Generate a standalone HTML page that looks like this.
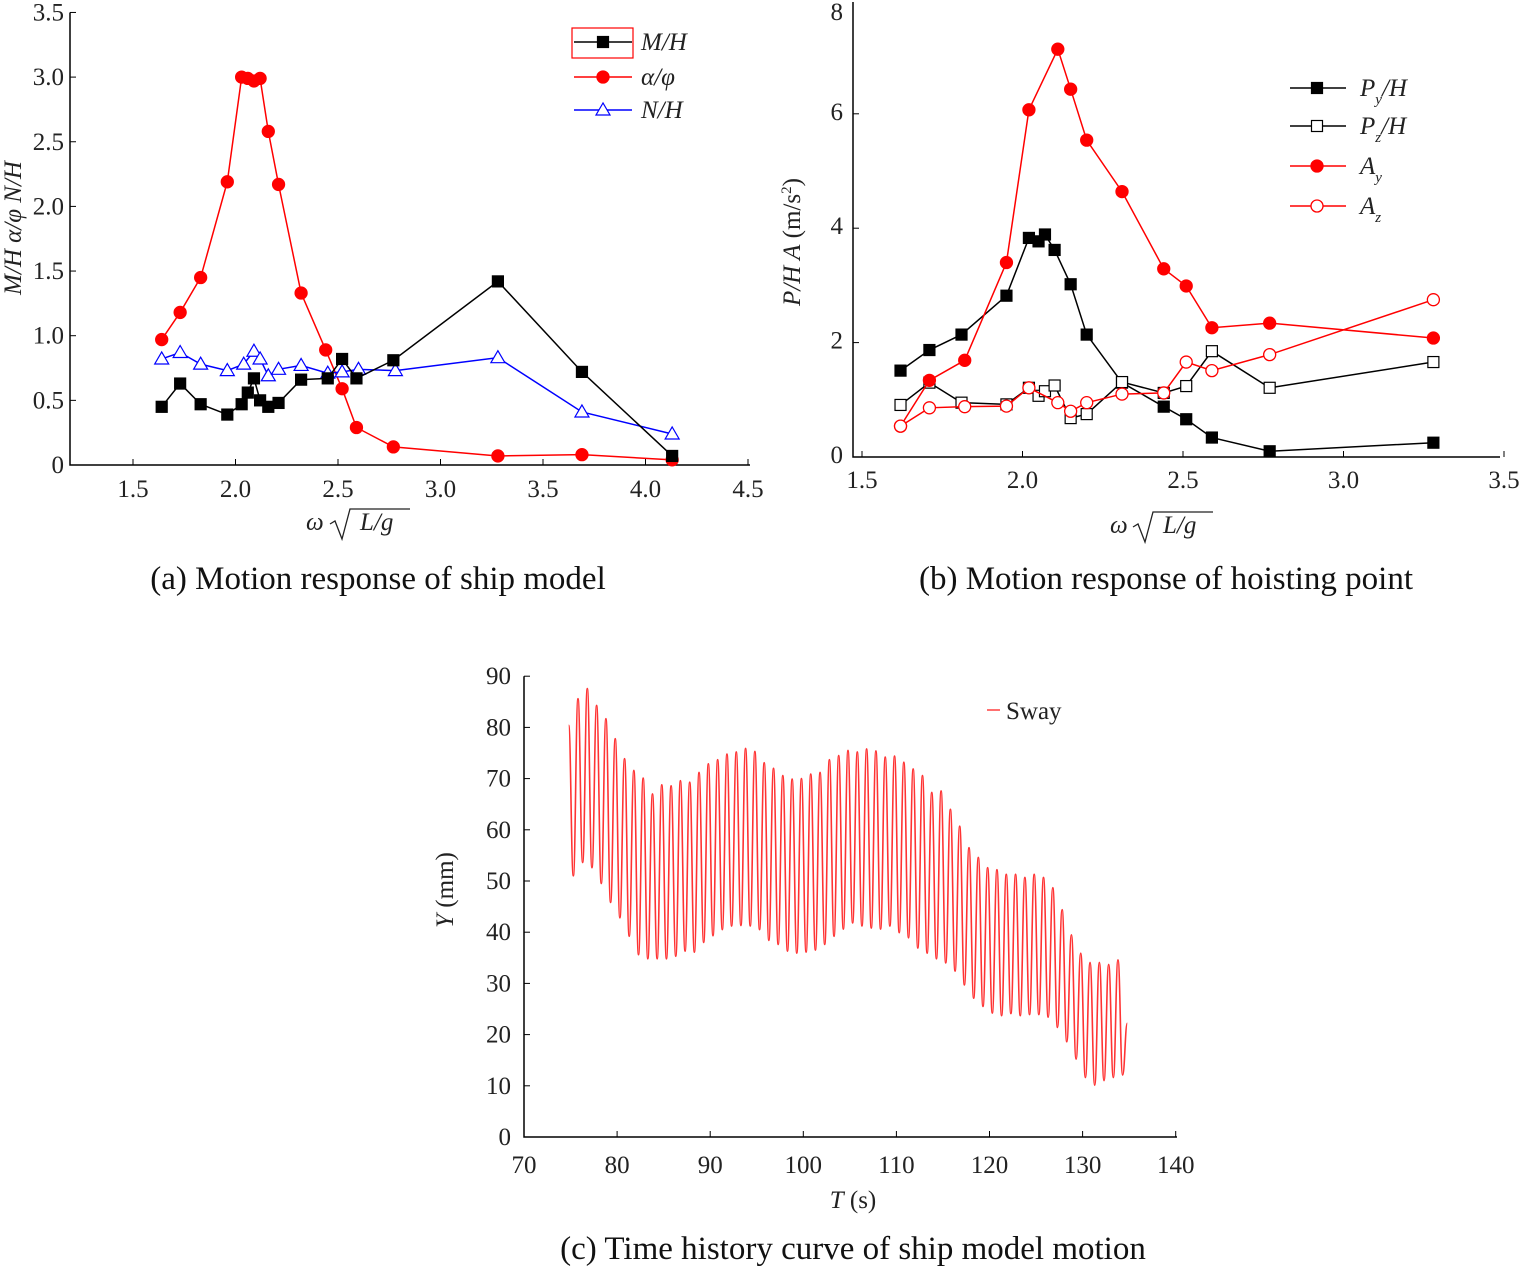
<!DOCTYPE html>
<html><head><meta charset="utf-8">
<style>
body{margin:0;background:#fff;}
svg{display:block;font-family:"Liberation Serif",serif;}
</style></head>
<body>
<svg id="fig" width="1524" height="1266" viewBox="0 0 1524 1266" xmlns="http://www.w3.org/2000/svg"></svg>
<script>
// ---- chart (a) data ----
const aX_MH=[1.64,1.73,1.83,1.96,2.03,2.06,2.09,2.12,2.16,2.21,2.32,2.45,2.52,2.59,2.77,3.28,3.69,4.13];
const aY_MH=[0.45,0.63,0.47,0.39,0.47,0.56,0.67,0.50,0.45,0.48,0.66,0.67,0.82,0.67,0.81,1.42,0.72,0.07];
const aX_AP=[1.64,1.73,1.83,1.96,2.03,2.06,2.09,2.12,2.16,2.21,2.32,2.44,2.52,2.59,2.77,3.28,3.69,4.13];
const aY_AP=[0.97,1.18,1.45,2.19,3.0,2.99,2.97,2.99,2.58,2.17,1.33,0.89,0.59,0.29,0.14,0.07,0.08,0.04];
const aX_NH=[1.64,1.73,1.83,1.96,2.04,2.09,2.12,2.16,2.21,2.32,2.45,2.52,2.60,2.78,3.28,3.69,4.13];
const aY_NH=[0.82,0.87,0.78,0.73,0.78,0.88,0.82,0.69,0.74,0.77,0.71,0.72,0.74,0.73,0.83,0.41,0.24];
const aXTicks=[1.5,2.0,2.5,3.0,3.5,4.0,4.5];
const aYTicks=[0,0.5,1.0,1.5,2.0,2.5,3.0,3.5];
const aYLabels=["0","0.5","1.0","1.5","2.0","2.5","3.0","3.5"];
// ---- chart (b) data ----
const bX_Py=[1.62,1.71,1.81,1.95,2.02,2.05,2.07,2.10,2.15,2.20,2.31,2.44,2.51,2.59,2.77,3.28];
const bY_Py=[1.51,1.87,2.14,2.82,3.83,3.77,3.89,3.62,3.02,2.14,1.30,0.88,0.66,0.34,0.10,0.25];
const bX_Pz=[1.62,1.71,1.81,1.95,2.02,2.05,2.07,2.10,2.15,2.20,2.31,2.44,2.51,2.59,2.77,3.28];
const bY_Pz=[0.91,1.30,0.95,0.92,1.21,1.07,1.15,1.25,0.68,0.75,1.31,1.12,1.24,1.85,1.21,1.66];
const bX_Ay=[1.62,1.71,1.82,1.95,2.02,2.11,2.15,2.20,2.31,2.44,2.51,2.59,2.77,3.28];
const bY_Ay=[0.54,1.34,1.69,3.40,6.07,7.13,6.43,5.54,4.64,3.29,2.99,2.26,2.34,2.08];
const bX_Az=[1.62,1.71,1.82,1.95,2.02,2.11,2.15,2.20,2.31,2.44,2.51,2.59,2.77,3.28];
const bY_Az=[0.54,0.86,0.88,0.89,1.21,0.95,0.80,0.95,1.10,1.12,1.66,1.51,1.79,2.75];
const bXTicks=[1.5,2.0,2.5,3.0,3.5];
const bYTicks=[0,2,4,6,8];
// ---- chart (c) data ----
const cPeakT0=74.8;
const cPeaks=[80.4,85.6,87.6,84.3,81.7,77.8,73.9,71.6,70.1,67,68.8,68.6,69.6,69.3,71.2,72.9,73.7,74.8,75.2,75.9,75.3,73.1,72,70.6,69.9,70,70.9,71.2,73.7,74.5,75.5,75.2,75.8,75.4,74.2,74.4,73.2,71.9,70.6,67.3,67.6,64,60.7,56.5,54.6,52.6,52.2,51.3,51.3,50.7,51.3,50.7,48.7,44.4,39.5,35.9,34.1,34.1,33.7,34.6];
const cTroughs=[51,53.6,52.6,49.5,45.8,42.8,39.2,35.6,34.8,34.8,34.8,35.3,36.3,36.1,38,39.3,40.5,41.2,41.3,41.2,40.5,38.4,37.6,36.3,35.9,36.1,36.5,37.6,39.2,40.6,41.8,41.2,40.8,40.6,41.2,39.9,38.9,36.9,35.9,34.8,34,32.4,29.7,27.1,25.5,24.2,23.7,24.1,23.7,23.9,23.9,23.4,21.4,18.6,15.2,11.6,10.1,11,11.6,12.1];
const cEnd=[134.8,22.2];
const cXTicks=[70,80,90,100,110,120,130,140];
const cYTicks=[0,10,20,30,40,50,60,70,80,90];

const NS="http://www.w3.org/2000/svg";
const svg=document.getElementById('fig');
function mk(tag,attrs,parent,text){const e=document.createElementNS(NS,tag);for(const k in attrs)e.setAttribute(k,attrs[k]);if(text!==undefined)e.textContent=text;(parent||svg).appendChild(e);return e;}

function marker(g,type,x,y,color){
  let e;
  if(type==='sq'||type==='osq'){e=mk('rect',{x:x-5.5,y:y-5.5,width:11,height:11,fill:type==='sq'?'#000':'#fff',stroke:'#000','stroke-width':1.2},g);}
  else if(type==='ci'||type==='oci'){e=mk('circle',{cx:x,cy:y,r:6,fill:type==='ci'?'#f00':'#fff',stroke:'#f00','stroke-width':1.3},g);}
  else {e=mk('polygon',{points:`${x},${y-7} ${x-7},${y+5} ${x+7},${y+5}`,fill:'#fff',stroke:'#00f','stroke-width':1.2},g);}
  
  
}
function series(parent,name,xs,ys,sx,sy,color,type){
  const g=mk('g',{},parent);
  
  
  mk('polyline',{points:xs.map((v,i)=>sx(v)+','+sy(ys[i])).join(' '),fill:'none',stroke:color,'stroke-width':1.5},g);
  xs.forEach((v,i)=>marker(g,type,sx(v),sy(ys[i]),color));
}

// ===== Chart (a) =====
(function(){
  const g=mk('g',{});
  
  
  const sx=v=>133+(v-1.5)*205, sy=v=>465-v*129.3;
  mk('path',{d:`M70,${sy(3.5)} V465 H750`,fill:'none',stroke:'#000','stroke-width':1.5},g);
  aXTicks.forEach(t=>{mk('line',{x1:sx(t),x2:sx(t),y1:465,y2:459,stroke:'#000'},g);
    mk('text',{x:sx(t),y:497,'text-anchor':'middle','font-size':25,fill:'#222'},g,t.toFixed(1));});
  aYTicks.forEach((t,i)=>{mk('line',{x1:70,x2:76,y1:sy(t),y2:sy(t),stroke:'#000'},g);
    mk('text',{x:64,y:sy(t)+8,'text-anchor':'end','font-size':25,fill:'#222'},g,aYLabels[i]);});
  const yt=mk('text',{x:0,y:0,transform:'translate(21,228) rotate(-90)','text-anchor':'middle','font-size':25,'font-style':'italic',fill:'#222','xml:space':'preserve'},g,'M/H  α/φ  N/H');
  
  const xt=mk('text',{x:306,y:530,'font-size':25,'font-style':'italic',fill:'#222'},g,'ω');
  
  mk('path',{d:'M330,524 l5,-3 l7,18 l8,-30 h60',fill:'none',stroke:'#222','stroke-width':1.3},g);
  mk('text',{x:360,y:530,'font-size':25,'font-style':'italic',fill:'#222'},g,'L/g');
  series(g,'series-alpha-phi',aX_AP,aY_AP,sx,sy,'#f00','ci');
  series(g,'series-n-h',aX_NH,aY_NH,sx,sy,'#00f','tri');
  series(g,'series-m-h',aX_MH,aY_MH,sx,sy,'#000','sq');
  const lg=mk('g',{},g);
  
  mk('rect',{x:572,y:28,width:61,height:30,fill:'none',stroke:'#f00','stroke-width':1.2},lg);
  [['M/H','#000','sq',42],['α/φ','#f00','ci',77],['N/H','#00f','tri',110]].forEach(([t,c,ty,y])=>{
    mk('line',{x1:574,x2:632,y1:y,y2:y,stroke:c,'stroke-width':1.5},lg);marker(lg,ty,603,y,c);
    const e=mk('text',{x:641,y:y+8,'font-size':25,'font-style':'italic',fill:'#222'},lg,t);
    });
  const cap=mk('text',{x:378,y:589,'text-anchor':'middle','font-size':33,fill:'#111'},g,'(a) Motion response of ship model');
  
})();

// ===== Chart (b) =====
(function(){
  const g=mk('g',{});
  
  
  const sx=v=>862+(v-1.5)*321, sy=v=>457-v*57.2;
  mk('path',{d:`M853,2 V457 H1500`,fill:'none',stroke:'#000','stroke-width':1.5},g);
  bXTicks.forEach(t=>{mk('line',{x1:sx(t),x2:sx(t),y1:457,y2:451,stroke:'#000'},g);
    mk('text',{x:sx(t),y:488,'text-anchor':'middle','font-size':25,fill:'#222'},g,t.toFixed(1));});
  bYTicks.forEach(t=>{mk('line',{x1:853,x2:859,y1:sy(t),y2:sy(t),stroke:'#000'},g);
    mk('text',{x:843,y:Math.max(sy(t)+6,20),'text-anchor':'end','font-size':25,fill:'#222'},g,String(t));});
  const yt=mk('text',{x:0,y:0,transform:'translate(800,242) rotate(-90)','text-anchor':'middle','font-size':25,fill:'#222'},g);
  
  yt.innerHTML='<tspan font-style="italic">P/H A</tspan> (m/s<tspan font-size="15" dy="-9">2</tspan><tspan dy="9">)</tspan>';
  const xt=mk('text',{x:1110,y:533,'font-size':25,'font-style':'italic',fill:'#222'},g,'ω');
  
  mk('path',{d:'M1133,527 l5,-3 l7,18 l8,-30 h60',fill:'none',stroke:'#222','stroke-width':1.3},g);
  mk('text',{x:1163,y:533,'font-size':25,'font-style':'italic',fill:'#222'},g,'L/g');
  series(g,'series-py-h',bX_Py,bY_Py,sx,sy,'#000','sq');
  series(g,'series-pz-h',bX_Pz,bY_Pz,sx,sy,'#000','osq');
  series(g,'series-ay',bX_Ay,bY_Ay,sx,sy,'#f00','ci');
  series(g,'series-az',bX_Az,bY_Az,sx,sy,'#f00','oci');
  const lg=mk('g',{},g);
  
  [['P','y','/H','#000','sq',88],['P','z','/H','#000','osq',126],['A','y','','#f00','ci',166],['A','z','','#f00','oci',206]].forEach(([a,s,b,c,ty,y])=>{
    mk('line',{x1:1290,x2:1346,y1:y,y2:y,stroke:c,'stroke-width':1.5},lg);marker(lg,ty,1317,y,c);
    const e=mk('text',{x:1360,y:y+8,'font-size':25,'font-style':'italic',fill:'#222'},lg);
    e.innerHTML=`${a}<tspan font-size="15" dy="8">${s}</tspan><tspan dy="-8">${b}</tspan>`;
    });
  const cap=mk('text',{x:1166,y:589,'text-anchor':'middle','font-size':33,fill:'#111'},g,'(b) Motion response of hoisting point');
  
})();

// ===== Chart (c) =====
(function(){
  const g=mk('g',{});
  
  
  const sx=v=>524+(v-70)*9.31, sy=v=>1137-v*5.12;
  mk('path',{d:`M524,${sy(90)} V1137 H1177`,fill:'none',stroke:'#000','stroke-width':1.5},g);
  cXTicks.forEach(t=>{mk('line',{x1:sx(t),x2:sx(t),y1:1137,y2:1131,stroke:'#000'},g);
    mk('text',{x:sx(t),y:1173,'text-anchor':'middle','font-size':25,fill:'#222'},g,String(t));});
  cYTicks.forEach(t=>{mk('line',{x1:524,x2:530,y1:sy(t),y2:sy(t),stroke:'#000'},g);
    mk('text',{x:511,y:sy(t)+8,'text-anchor':'end','font-size':25,fill:'#222'},g,String(t));});
  const yt=mk('text',{x:0,y:0,transform:'translate(453,890) rotate(-90)','text-anchor':'middle','font-size':25,fill:'#222'},g);
  yt.innerHTML='<tspan font-style="italic">Y</tspan> (mm)';
  
  const xt=mk('text',{x:853,y:1208,'text-anchor':'middle','font-size':25,fill:'#222'},g);
  xt.innerHTML='<tspan font-style="italic">T</tspan> (s)';
  
  const pts=[];
  cPeaks.forEach((p,i)=>{pts.push([cPeakT0+i,p]);pts.push([cPeakT0+i+0.5,cTroughs[i]]);});
  pts.push(cEnd);
  let d=`M${sx(pts[0][0])},${sy(pts[0][1])}`;
  for(let i=1;i<pts.length;i++){
    const x0=sx(pts[i-1][0]),y0=sy(pts[i-1][1]),x1=sx(pts[i][0]),y1=sy(pts[i][1]);
    const h=(x1-x0)*0.45;
    d+=` C${x0+h},${y0} ${x1-h},${y1} ${x1},${y1}`;
  }
  const line=mk('path',{d:d,fill:'none',stroke:'#f33','stroke-width':1.6},g);
  
  
  const lg=mk('g',{},g);
  
  mk('line',{x1:987,x2:1000,y1:710,y2:710,stroke:'#f33','stroke-width':1.4},lg);
  const le=mk('text',{x:1006,y:719,'font-size':25,fill:'#222'},lg,'Sway');
  
  const cap=mk('text',{x:853,y:1259,'text-anchor':'middle','font-size':33,fill:'#111'},g,'(c) Time history curve of ship model motion');
  
})();
</script>
</body></html>
